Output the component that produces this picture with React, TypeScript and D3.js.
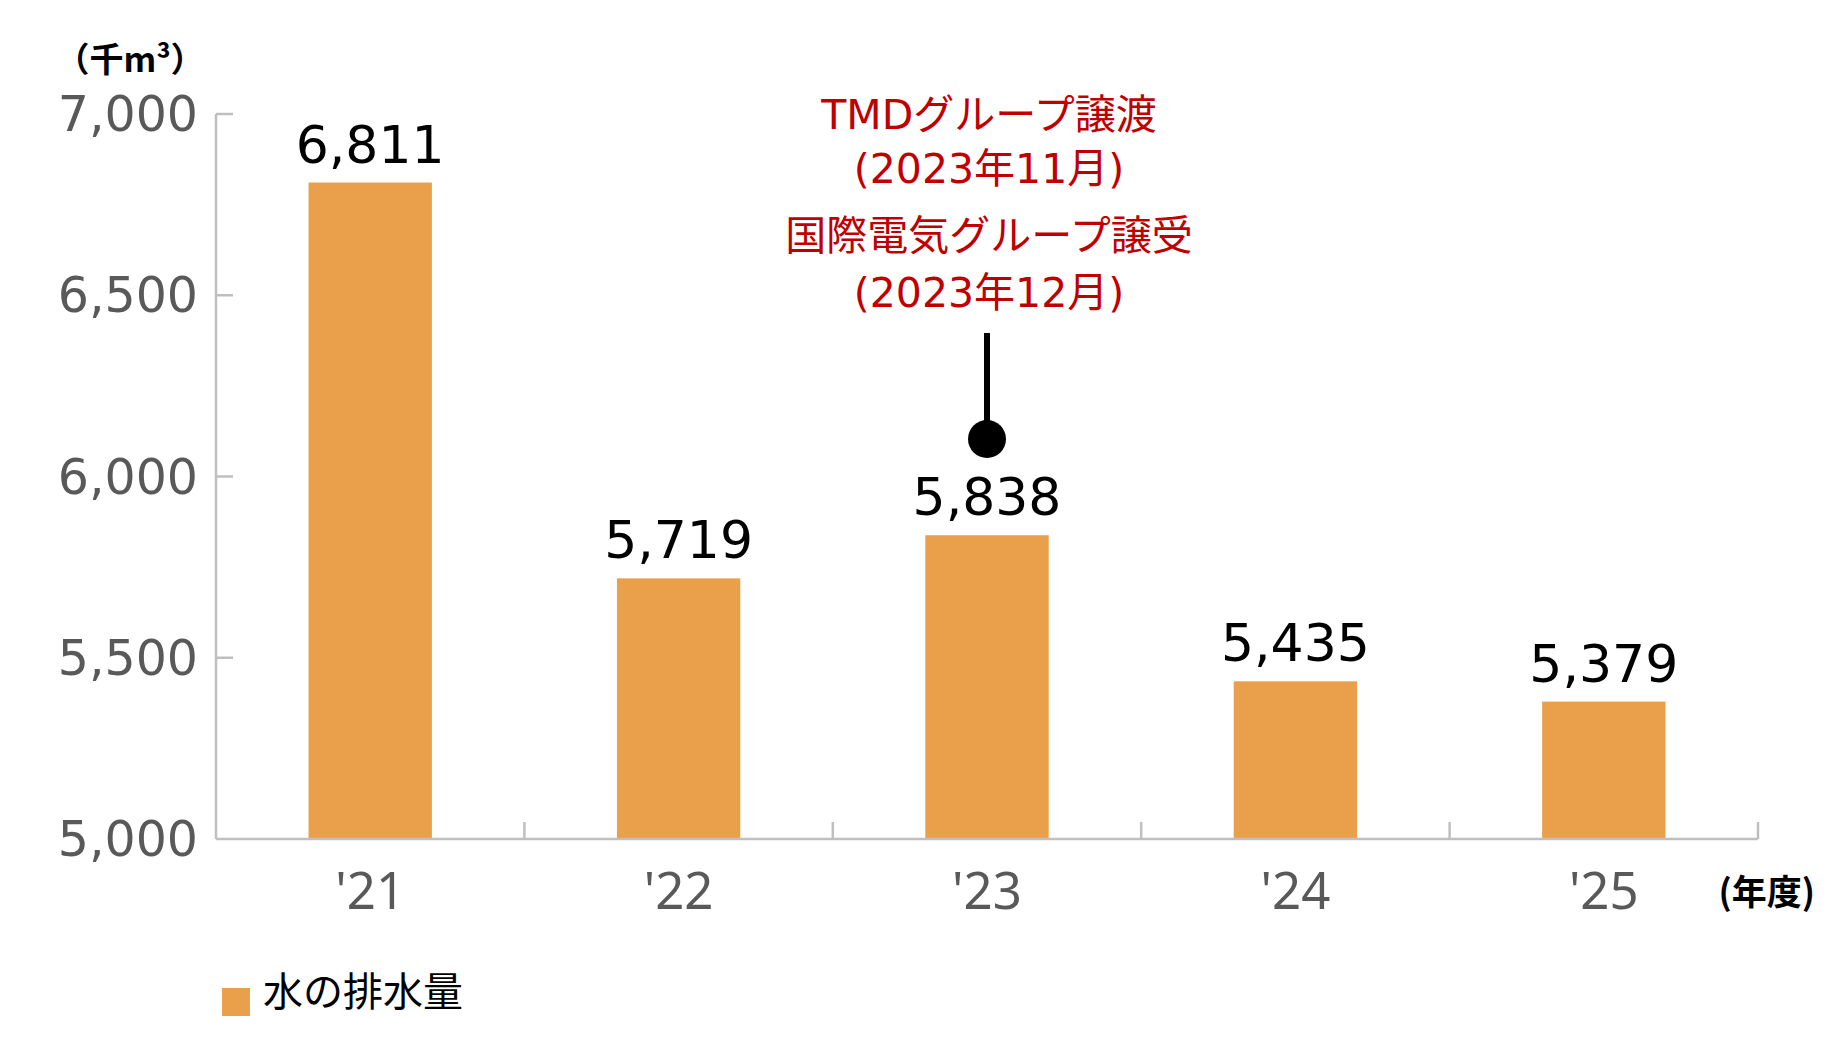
import React, { useRef, useEffect } from 'react';
import { select, scaleBand, scaleLinear } from 'd3';

// fiscal years and water discharge (thousand m3)
const years = ["'21", "'22", "'23", "'24", "'25"];
const discharge = [6811, 5719, 5838, 5435, 5379];
const yTicks = [5000, 5500, 6000, 6500, 7000];
const tickLabels = ['5,000', '5,500', '6,000', '6,500', '7,000'];

// note pinned above the '23 bar
const noteYear = "'23";
const noteLines = ['TMDグループ譲渡', '(2023年11月)', '国際電気グループ譲受', '(2023年12月)'];

const seriesName = '水の排水量';
const unitLabel = '（千m³）';
const xUnitLabel = '(年度)';

const WIDTH = 1828;
const HEIGHT = 1040;
const BAR_COLOR = '#EAA04A';
const AXIS_COLOR = '#BFBFBF';
const JP_FONT = '"Noto Sans CJK JP", sans-serif';
const NUM_FONT = '"DejaVu Sans", "Noto Sans CJK JP", sans-serif';

const App: React.FC = () => {
  const svgRef = useRef<SVGSVGElement>(null);

  useEffect(() => {
    if (!svgRef.current) return;
    const svg = select(svgRef.current);
    svg.selectAll('*').remove();

    const left = 216;
    const right = 1758;
    const top = 114;
    const bottom = 839;

    const x = scaleBand<string>()
      .domain(years)
      .range([left, right])
      .paddingInner(0.6)
      .paddingOuter(0.3);

    const y = scaleLinear().domain([5000, 7000]).range([bottom, top]);

    // bars
    svg.append('g')
      .selectAll('rect')
      .data(discharge)
      .join('rect')
      .attr('x', (_, i) => x(years[i])!)
      .attr('y', d => y(d))
      .attr('width', x.bandwidth())
      .attr('height', d => bottom - y(d))
      .attr('fill', BAR_COLOR);

    // y axis line and inward ticks
    const axis = svg.append('g').attr('stroke', AXIS_COLOR).attr('stroke-width', 2.5);
    axis.append('line')
      .attr('x1', left).attr('x2', left)
      .attr('y1', y(7000)).attr('y2', bottom);
    axis.selectAll('line.ytick')
      .data(yTicks.filter(t => t > 5000))
      .join('line')
      .attr('class', 'ytick')
      .attr('x1', left).attr('x2', left + 17)
      .attr('y1', d => y(d)).attr('y2', d => y(d));

    // x axis line with ticks between categories
    axis.append('line')
      .attr('x1', left).attr('x2', right)
      .attr('y1', bottom).attr('y2', bottom);
    const step = x.step();
    axis.selectAll('line.xtick')
      .data(years)
      .join('line')
      .attr('class', 'xtick')
      .attr('x1', (_, i) => left + step * (i + 1))
      .attr('x2', (_, i) => left + step * (i + 1))
      .attr('y1', bottom).attr('y2', bottom - 17);

    // y tick labels
    svg.append('g')
      .selectAll('text')
      .data(yTicks)
      .join('text')
      .attr('x', 198)
      .attr('y', d => y(d) + 17)
      .attr('text-anchor', 'end')
      .attr('font-family', NUM_FONT)
      .attr('font-size', 49)
      .attr('fill', '#595959')
      .text((_, i) => tickLabels[i]);

    // x tick labels
    svg.append('g')
      .selectAll('text')
      .data(years)
      .join('text')
      .attr('x', d => x(d)! + x.bandwidth() / 2)
      .attr('y', 909)
      .attr('text-anchor', 'middle')
      .attr('font-family', '"Noto Sans", sans-serif')
      .attr('font-size', 51)
      .attr('fill', '#595959')
      .text(d => d);

    // value labels
    svg.append('g')
      .selectAll('text')
      .data(discharge)
      .join('text')
      .attr('x', (_, i) => x(years[i])! + x.bandwidth() / 2)
      .attr('y', d => y(d) - 20)
      .attr('text-anchor', 'middle')
      .attr('font-family', NUM_FONT)
      .attr('font-size', 52)
      .attr('fill', '#000')
      .text(d => d.toLocaleString('en-US'));

    // unit labels
    svg.append('text')
      .attr('x', 130).attr('y', 72)
      .attr('text-anchor', 'middle')
      .attr('font-family', JP_FONT)
      .attr('font-weight', 'bold')
      .attr('font-size', 34)
      .attr('fill', '#000')
      .text(unitLabel);

    svg.append('text')
      .attr('x', 1815).attr('y', 905)
      .attr('text-anchor', 'end')
      .attr('font-family', JP_FONT)
      .attr('font-weight', 'bold')
      .attr('font-size', 35)
      .attr('fill', '#000')
      .text(xUnitLabel);

    // annotation: red note, stem and dot
    const noteX = x(noteYear)! + x.bandwidth() / 2;
    const noteBaselines = [129, 183, 250, 307];
    svg.append('g')
      .selectAll('text')
      .data(noteLines)
      .join('text')
      .attr('x', noteX + 2)
      .attr('y', (_, i) => noteBaselines[i])
      .attr('text-anchor', 'middle')
      .attr('font-family', NUM_FONT)
      .attr('font-size', 41)
      .attr('fill', '#C00000')
      .text(d => d);

    svg.append('line')
      .attr('x1', noteX).attr('x2', noteX)
      .attr('y1', 333).attr('y2', 439)
      .attr('stroke', '#000')
      .attr('stroke-width', 6);
    svg.append('circle')
      .attr('cx', noteX).attr('cy', 439)
      .attr('r', 19)
      .attr('fill', '#000');

    // legend
    const legend = svg.append('g');
    legend.append('rect')
      .attr('x', 222).attr('y', 988)
      .attr('width', 28).attr('height', 28)
      .attr('fill', BAR_COLOR);
    legend.append('text')
      .attr('x', 263).attr('y', 1006)
      .attr('font-family', JP_FONT)
      .attr('font-size', 40)
      .attr('fill', '#000')
      .text(seriesName);
  }, []);

  return (
    <svg
      ref={svgRef}
      width={WIDTH}
      height={HEIGHT}
      style={{ position: 'absolute', left: 0, top: 0, background: '#fff', display: 'block' }}
    />
  );
};

export default App;
